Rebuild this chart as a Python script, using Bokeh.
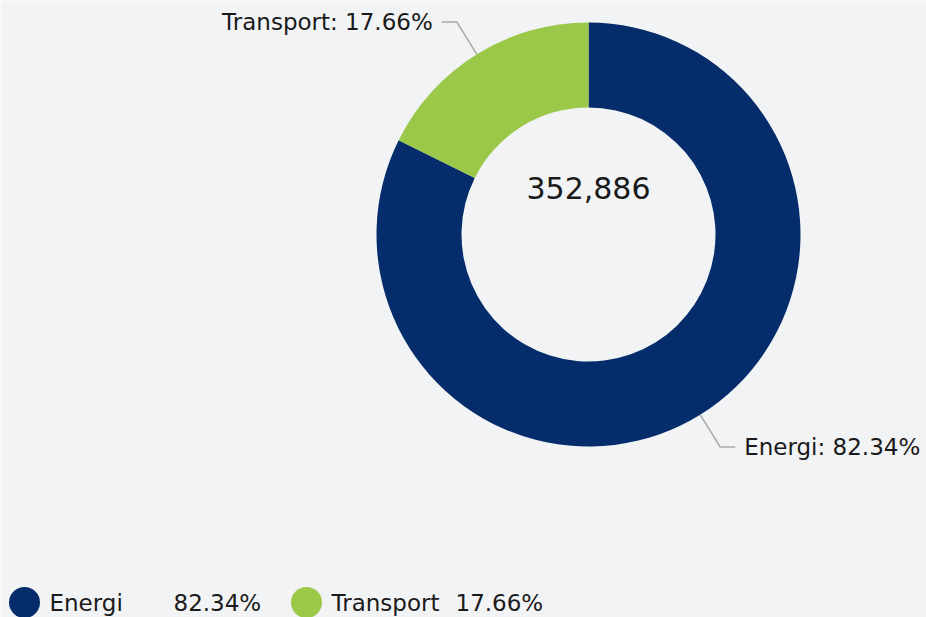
import math
from bokeh.plotting import figure
from bokeh.models import Range1d, ColumnDataSource
from bokeh.core.properties import value
from bokeh.embed import file_html
from bokeh.resources import INLINE

# Data
categories = ["Energi", "Transport"]
shares = [82.34, 17.66]
colors = ["#062d6b", "#9bc848"]
total_label = "352,886"

W, H = 926, 617
FONT = value("DejaVu Sans")
BG = "#f2f3f5"

p = figure(width=W, height=H, output_backend="svg", toolbar_location=None,
           x_range=Range1d(0, W), y_range=Range1d(0, H), min_border=0)
p.axis.visible = False
p.grid.visible = False
p.outline_line_color = None
p.background_fill_color = BG
p.border_fill_color = BG

cx, cy = 588, H - 234
r_out, r_in = 212, 127

# wedges: start at top (90deg), proceed clockwise
starts, ends, mids = [], [], []
angle = math.pi / 2
for s in shares:
    sweep = 2 * math.pi * s / 100.0
    starts.append(angle - sweep)
    ends.append(angle)
    mids.append(angle - sweep / 2)
    angle -= sweep

src = ColumnDataSource(dict(x=[cx] * len(shares), y=[cy] * len(shares),
                            start=starts, end=ends, color=colors))
p.annular_wedge(x="x", y="y", inner_radius=r_in, outer_radius=r_out,
                start_angle="start", end_angle="end", fill_color="color",
                line_color=None, source=src)

# center total
p.text(x=[cx], y=[H - 187], text=[total_label], text_font=FONT,
       text_font_size="30px", text_align="center", text_baseline="middle",
       text_color="#1a1a1a")

# leader lines and labels
for cat, s, m in zip(categories, shares, mids):
    x0 = cx + r_out * math.cos(m)
    y0 = cy + r_out * math.sin(m)
    x1 = cx + (r_out + 38) * math.cos(m)
    y1 = cy + (r_out + 38) * math.sin(m)
    side = 1 if math.cos(m) >= 0 else -1
    x2 = x1 + side * 15
    p.line([x0, x1, x2], [y0, y1, y1], line_color="#aaaaaa", line_width=1.5)
    p.text(x=[x2 + side * 9], y=[y1], text=[f"{cat}: {s:.2f}%"], text_font=FONT,
           text_font_size="23px", text_align="left" if side > 0 else "right",
           text_baseline="middle", text_color="#1a1a1a")

# legend
leg_y = H - 602
leg_x = [24, 306]
for i, (cat, s) in enumerate(zip(categories, shares)):
    lx = leg_x[i]
    p.scatter(x=[lx], y=[leg_y], size=31, marker="circle",
              fill_color=colors[i], line_color=None)
    p.text(x=[lx + 25], y=[leg_y], text=[cat], text_font=FONT,
           text_font_size="23px", text_align="left", text_baseline="middle",
           text_color="#1a1a1a")
    p.text(x=[lx + 149], y=[leg_y], text=[f"{s:.2f}%"], text_font=FONT,
           text_font_size="23px", text_align="left", text_baseline="middle",
           text_color="#1a1a1a")

open("out.html", "w").write(file_html(p, INLINE))
